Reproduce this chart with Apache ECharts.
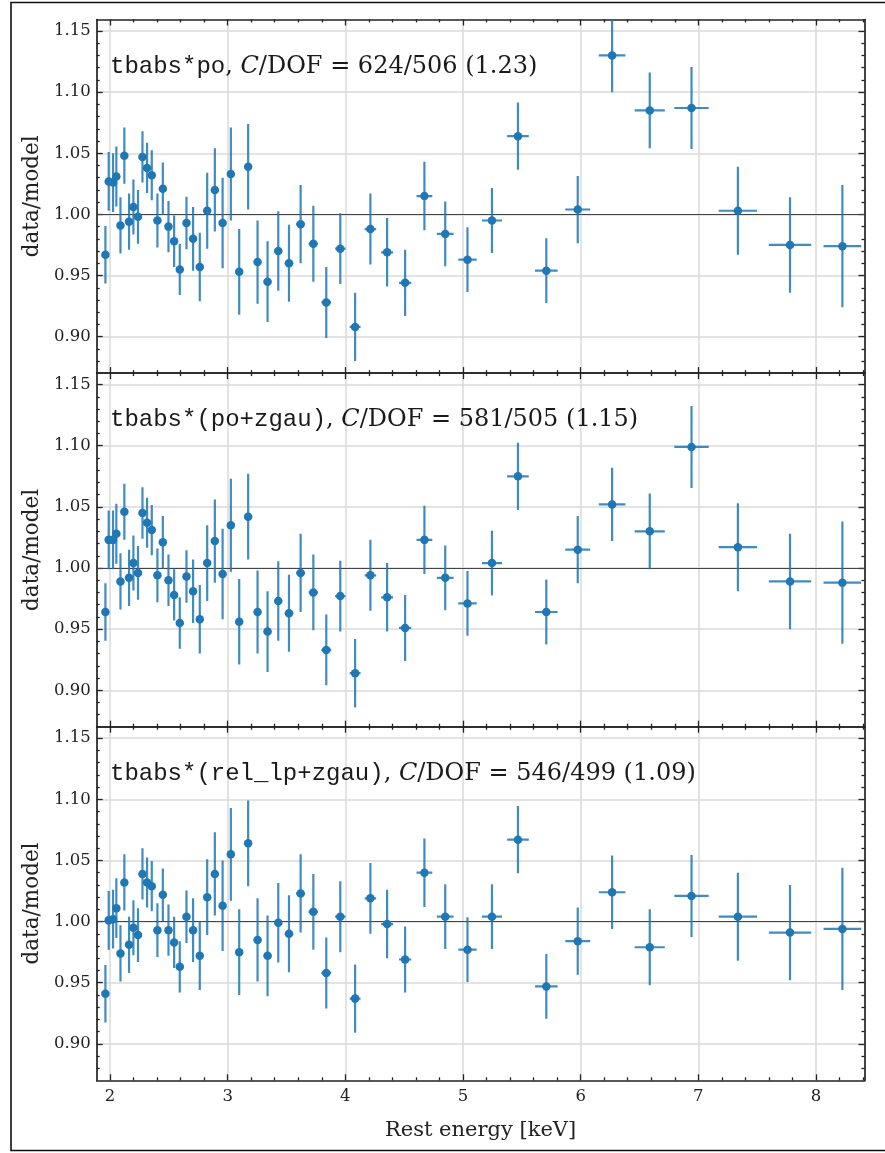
<!DOCTYPE html>
<html><head><meta charset="utf-8">
<script src="https://cdn.jsdelivr.net/npm/echarts@6/dist/echarts.min.js"></script>
<style>html,body{margin:0;padding:0;background:#fff}#c{width:885px;height:1153px}</style>
</head><body><div id="c"></div>
<script>
// ---------------- data ----------------
const energy = [1.961, 1.989, 2.026, 2.054, 2.089, 2.122, 2.162, 2.199, 2.238, 2.276,
  2.315, 2.355, 2.403, 2.449, 2.497, 2.545, 2.593, 2.650, 2.706, 2.763,
  2.826, 2.891, 2.957, 3.027, 3.098, 3.174, 3.254, 3.339, 3.430, 3.521,
  3.620, 3.728, 3.838, 3.957, 4.083, 4.213, 4.355, 4.508, 4.672, 4.849,
  5.038, 5.246, 5.467, 5.708, 5.975, 6.267, 6.587, 6.942, 7.336, 7.779, 8.224];
const energyHalfWidth = [0.012, 0.013, 0.013, 0.014, 0.014, 0.015, 0.015, 0.016, 0.016, 0.016,
  0.017, 0.017, 0.018, 0.018, 0.019, 0.019, 0.020, 0.021, 0.022, 0.023,
  0.024, 0.025, 0.026, 0.027, 0.028, 0.030, 0.031, 0.033, 0.034, 0.036,
  0.038, 0.040, 0.042, 0.044, 0.046, 0.049, 0.051, 0.052, 0.067, 0.071,
  0.078, 0.085, 0.092, 0.096, 0.106, 0.113, 0.128, 0.146, 0.163, 0.180, 0.160];
const ratioErr = [0.0235, 0.024, 0.024, 0.0245, 0.023, 0.023, 0.023, 0.0225, 0.022, 0.021,
  0.0205, 0.0205, 0.022, 0.0215, 0.021, 0.021, 0.021, 0.0215, 0.026, 0.028,
  0.031, 0.034, 0.037, 0.038, 0.035, 0.035, 0.034, 0.033, 0.0325, 0.0315,
  0.032, 0.031, 0.029, 0.029, 0.028, 0.029, 0.028, 0.027, 0.028, 0.0265,
  0.0265, 0.0265, 0.0275, 0.0265, 0.0275, 0.030, 0.031, 0.0335, 0.036, 0.039, 0.050];
const ratioPo = [0.967, 1.027, 1.026, 1.031, 0.991, 1.048, 0.994, 1.006, 0.998, 1.047,
  1.038, 1.032, 0.995, 1.021, 0.990, 0.978, 0.955, 0.993, 0.980, 0.957,
  1.003, 1.020, 0.993, 1.033, 0.953, 1.039, 0.961, 0.945, 0.970, 0.960,
  0.992, 0.976, 0.928, 0.972, 0.908, 0.988, 0.969, 0.944, 1.015, 0.984,
  0.963, 0.995, 1.064, 0.954, 1.004, 1.130, 1.085, 1.087, 1.003, 0.975, 0.974];
const ratioPoGau = [0.964, 1.023, 1.023, 1.028, 0.989, 1.046, 0.992, 1.004, 0.996, 1.045,
  1.037, 1.031, 0.994, 1.021, 0.990, 0.978, 0.955, 0.993, 0.981, 0.958,
  1.004, 1.022, 0.995, 1.035, 0.956, 1.042, 0.964, 0.948, 0.973, 0.963,
  0.996, 0.980, 0.933, 0.977, 0.914, 0.994, 0.976, 0.951, 1.023, 0.992,
  0.971, 1.004, 1.075, 0.964, 1.015, 1.052, 1.030, 1.099, 1.017, 0.989, 0.988];
const ratioRelGau = [0.941, 1.001, 1.002, 1.011, 0.974, 1.032, 0.981, 0.995, 0.989, 1.039,
  1.032, 1.029, 0.993, 1.022, 0.993, 0.983, 0.963, 1.004, 0.993, 0.972,
  1.020, 1.039, 1.013, 1.055, 0.975, 1.064, 0.985, 0.972, 0.999, 0.990,
  1.023, 1.008, 0.958, 1.004, 0.937, 1.019, 0.998, 0.969, 1.040, 1.004,
  0.977, 1.004, 1.067, 0.947, 0.984, 1.024, 0.979, 1.021, 1.004, 0.991, 0.994];
const panelRatios = [ratioPo, ratioPoGau, ratioRelGau];
const modelNames = ['tbabs*po', 'tbabs*(po+zgau)', 'tbabs*(rel_lp+zgau)'];
const fitStats = ['624/506 (1.23)', '581/505 (1.15)', '546/499 (1.09)'];
const xMajorTicks = [2, 3, 4, 5, 6, 7, 8];
const xMinorTicks = [2.2, 2.4, 2.6, 2.8, 3.2, 3.4, 3.6, 3.8, 4.2, 4.4, 4.6, 4.8,
  5.2, 5.4, 5.6, 5.8, 6.2, 6.4, 6.6, 6.8, 7.2, 7.4, 7.6, 7.8, 8.2, 8.4];
const yMajorTicks = [0.90, 0.95, 1.00, 1.05, 1.10, 1.15];
const yMinorTicks = [0.88, 0.89, 0.91, 0.92, 0.93, 0.94, 0.96, 0.97, 0.98, 0.99,
  1.01, 1.02, 1.03, 1.04, 1.06, 1.07, 1.08, 1.09, 1.11, 1.12, 1.13, 1.14];
const refLevel = 1.0;
const xTitle = 'Rest energy [keV]';
const yTitle = 'data/model';

// ---------------- layout / style ----------------
const X_MIN = 1.887, X_MAX = 8.412, Y_MIN = 0.8702, Y_MAX = 1.1594;
const GRID_LEFT = 96.7, GRID_W = 767.8, PANEL_TOP = 19.5, PANEL_H = 353.6;
const FRAME = '#222', GRID = '#dadada', BLUE = '#1f77b4', ERR = 'rgba(31,119,180,0.85)';
const SERIF = 'DejaVu Serif', MONO = 'Liberation Mono';

const grids = [], xAxes = [], yAxes = [], series = [], graphics = [];

function tickAxis(kind, i, pos, values, len, main) {
  const isX = kind === 'x';
  return {
    type: 'value', gridIndex: i, position: pos,
    min: isX ? X_MIN : Y_MIN, max: isX ? X_MAX : Y_MAX,
    axisLine: { show: main, onZero: false, lineStyle: { color: FRAME, width: 1.7 } },
    axisTick: { show: true, inside: true, length: len, customValues: values,
      lineStyle: { color: FRAME, width: 1.3 } },
    axisLabel: { show: false },
    splitLine: { show: false },
    minorTick: { show: false }, minorSplitLine: { show: false },
    axisPointer: { show: false }
  };
}

for (let i = 0; i < 3; i++) {
  grids.push({ left: GRID_LEFT, width: GRID_W, top: PANEL_TOP + i * PANEL_H, height: PANEL_H });
  const xb = tickAxis('x', i, 'bottom', xMajorTicks, 6, true);
  xb.splitLine = { show: true, lineStyle: { color: GRID, width: 1.5 } };
  if (i === 2) {
    xb.axisLabel = { show: true, customValues: xMajorTicks, margin: 8, color: '#222',
      fontFamily: SERIF, fontSize: 16.5, formatter: v => String(v) };
    xb.name = xTitle; xb.nameLocation = 'middle'; xb.nameGap = 40;
    xb.nameTextStyle = { fontFamily: SERIF, fontSize: 21, color: '#222' };
  }
  xAxes.push(xb,
    tickAxis('x', i, 'bottom', xMinorTicks, 3, false),
    tickAxis('x', i, 'top', xMajorTicks, 6, true),
    tickAxis('x', i, 'top', xMinorTicks, 3, false));
  const yl = tickAxis('y', i, 'left', yMajorTicks, 6, true);
  yl.splitLine = { show: true, lineStyle: { color: GRID, width: 1.5 } };
  yl.axisLabel = { show: true, customValues: yMajorTicks, margin: 6, color: '#222',
    fontFamily: SERIF, fontSize: 16.5, formatter: v => v.toFixed(2) };
  yl.name = yTitle; yl.nameLocation = 'middle'; yl.nameGap = 52;
  yl.nameTextStyle = { fontFamily: SERIF, fontSize: 21.5, color: '#222' };
  yAxes.push(yl,
    tickAxis('y', i, 'left', yMinorTicks, 3, false),
    tickAxis('y', i, 'right', yMajorTicks, 6, true),
    tickAxis('y', i, 'right', yMinorTicks, 3, false));

  const vals = panelRatios[i];
  const pts = energy.map((e, k) => [e, vals[k], ratioErr[k], energyHalfWidth[k]]);
  series.push({
    type: 'custom', xAxisIndex: i * 4, yAxisIndex: i * 4, clip: true, silent: true, z: 3,
    data: pts,
    renderItem: function (params, api) {
      const x = api.value(0), y = api.value(1), ey = api.value(2), ex = api.value(3);
      const c = api.coord([x, y]);
      const t = api.coord([x, y + ey]);
      const b = api.coord([x, y - ey]);
      const l = api.coord([x - ex, y]);
      const r = api.coord([x + ex, y]);
      const st = { stroke: ERR, lineWidth: 2.2 };
      return { type: 'group', children: [
        { type: 'line', shape: { x1: c[0], y1: t[1], x2: c[0], y2: b[1] }, style: st },
        { type: 'line', shape: { x1: l[0], y1: c[1], x2: r[0], y2: c[1] }, style: st }
      ] };
    }
  });
  series.push({
    type: 'scatter', xAxisIndex: i * 4, yAxisIndex: i * 4, z: 4, silent: true,
    symbol: 'circle', symbolSize: 8.5, itemStyle: { color: BLUE, opacity: 1 },
    data: pts.map(p => [p[0], p[1]]),
    markLine: { silent: true, symbol: 'none', z: 2, label: { show: false },
      lineStyle: { color: '#444', width: 1.1, type: 'solid' },
      data: [{ yAxis: refLevel }] }
  });
  graphics.push({
    type: 'text', x: 110, y: PANEL_TOP + i * PANEL_H + 47, z: 10,
    style: {
      text: '{m|' + modelNames[i] + '}{s|, }{c|C}{s|/DOF = ' + fitStats[i] + '}',
      verticalAlign: 'middle', align: 'left',
      rich: {
        m: { fontFamily: MONO, fontSize: 24, fill: '#1a1a1a' },
        s: { fontFamily: SERIF, fontSize: 24, fill: '#1a1a1a' },
        c: { fontFamily: SERIF, fontSize: 24, fontStyle: 'italic', fill: '#1a1a1a' }
      }
    }
  });
}
graphics.push({ type: 'rect', shape: { x: 11, y: 2.5, width: 900, height: 1148 }, z: 0,
  style: { fill: 'none', stroke: '#111', lineWidth: 1.6 } });

const chart = echarts.init(document.getElementById('c'), null, { renderer: 'canvas' });
chart.setOption({
  animation: false,
  backgroundColor: '#fff',
  grid: grids, xAxis: xAxes, yAxis: yAxes, series: series, graphic: graphics
});
</script></body></html>
